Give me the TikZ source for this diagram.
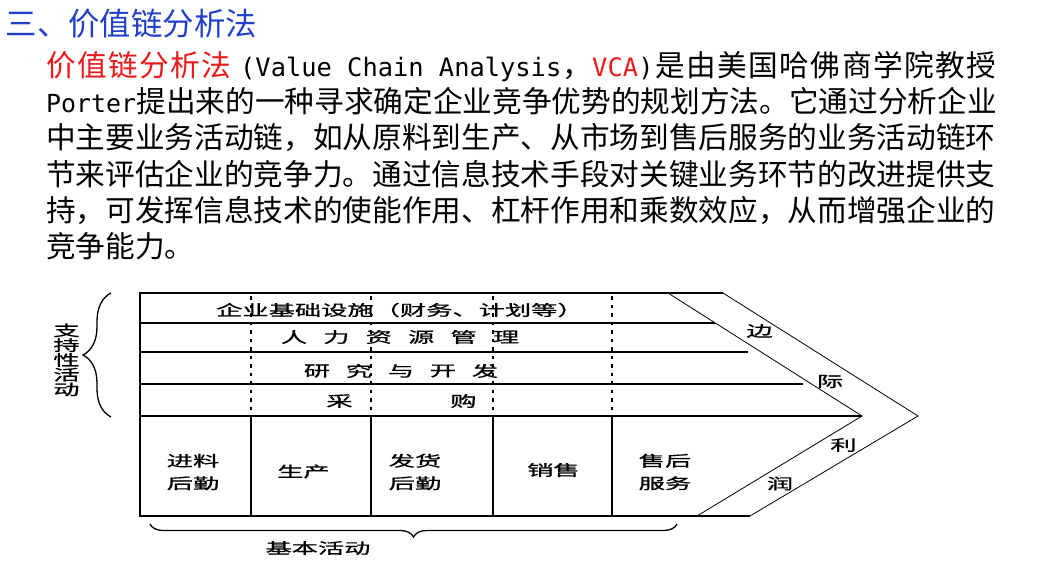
\documentclass[tikz,border=0pt]{standalone}
\usepackage{fontspec}
\setmainfont{Noto Sans CJK SC}
\newfontfamily\cjkwide[LetterSpace=5]{Noto Sans CJK SC}
\newfontfamily\dgfont[FakeBold=0.8]{Noto Sans CJK SC}
\newfontfamily\latmono{DejaVu Sans Mono}
\usetikzlibrary{decorations.pathreplacing}

\definecolor{titleblue}{RGB}{35,65,200}
\definecolor{keyred}{RGB}{235,25,25}

% body text sizes (1pt = 1 unit of the picture)
\newcommand{\bodysize}{\fontsize{29.66}{36}\selectfont}
\newcommand{\monoA}{\latmono\fontsize{25.4}{36}\selectfont}
\newcommand{\monoB}{\latmono\fontsize{24.9}{36}\selectfont}
% widened diagram lettering
\newcommand{\dg}[1]{\scalebox{1.75}[1]{\dgfont\fontsize{15}{15}\selectfont #1}}
\newcommand{\dv}[1]{\scalebox{1.75}[1]{\dgfont\fontsize{15}{15}\selectfont #1}}

\begin{document}
\begin{tikzpicture}[x=1pt,y=-1pt,
  txt/.style={inner sep=0pt, anchor=base west},
  lbl/.style={inner sep=0pt},
  twoline/.style={inner sep=0pt, align=center, font=\fontsize{15}{22.5}\selectfont},
  frame/.style={line width=1.6pt},
  rowline/.style={line width=1.3pt},
  band/.style={line width=0.8pt},
  bracestyle/.style={line width=1.3pt, decorate},
  dotline/.style={line width=1.9pt, dash pattern=on 3.5pt off 5pt}]

\fill[white] (0,0) rectangle (1043,565);
\useasboundingbox (0,0) rectangle (1043,565);

% heading
\node[txt, text=titleblue, font=\fontsize{31.4}{36}\selectfont] (title) at (5.5,35.4) {三、价值链分析法};

% paragraph
\node[txt, text=keyred, font=\cjkwide\bodysize] (l1a) at (46,76.5) {价值链分析法};
\node[txt, font=\monoA] (l1b) at (240,76.5) {(Value Chain Analysis};
\node[txt, font=\bodysize] (l1c) at (562,76.5) {，};
\node[txt, text=keyred, font=\monoA] (l1d) at (592,76.5) {VCA};
\node[txt, font=\monoA] (l1e) at (l1d.base east) {)};
\node[txt, font=\cjkwide\bodysize] (l1f) at (655,76.5) {是由美国哈佛商学院教授};

\node[txt, font=\monoB] (l2a) at (46,112.7) {Porter};
\node[txt, font=\bodysize] (l2b) at (l2a.base east) {提出来的一种寻求确定企业竞争优势的规划方法。它通过分析企业};
\node[txt, font=\bodysize] (l3) at (46,148.9) {中主要业务活动链，如从原料到生产、从市场到售后服务的业务活动链环};
\node[txt, font=\bodysize] (l4) at (46,185.1) {节来评估企业的竞争力。通过信息技术手段对关键业务环节的改进提供支};
\node[txt, font=\bodysize] (l5) at (46,221.3) {持，可发挥信息技术的使能作用、杠杆作用和乘数效应，从而增强企业的};
\node[txt, font=\bodysize] (l6) at (46,257.5) {竞争能力。};

% value chain: frame and rows
\draw[frame] (723,293) -- (140,293) -- (140,516) -- (750,516);
\draw[rowline] (140,323) -- (715,323);
\draw[rowline] (140,352) -- (748,352);
\draw[rowline] (140,384) -- (803,384);
\draw[rowline] (140,416) -- (862,416);

% margin chevron band
\draw[band] (668,293) -- (862,416) -- (697,516);
\draw[band] (723,293) -- (918,416) -- (750,516);

% activity separators
\foreach \x in {251,371,493,612}{
  \draw[dotline] (\x,296) -- (\x,416);
  \draw[frame] (\x,416) -- (\x,516);
}

% support activities
\node[lbl, anchor=west] (infra) at (216,310) {\dg{企业基础设施（财务、计划等）}};
\foreach \c [count=\i] in {人,力,资,源,管,理}
  \node[lbl] (hr\i) at ({251.6+42.4*\i},337) {\dg{\c}};
\foreach \c [count=\i] in {研,究,与,开,发}
  \node[lbl] (rd\i) at ({275+42*\i},371) {\dg{\c}};
\node[lbl] (buy1) at (339.5,401) {\dg{采}};
\node[lbl] (buy2) at (463.5,401) {\dg{购}};

% primary activities
\node[twoline] (inbound) at (193,472) {\dg{进料}\\\dg{后勤}};
\node[lbl] (ops) at (303.5,471.5) {\dg{生产}};
\node[twoline] (outbound) at (415,472) {\dg{发货}\\\dg{后勤}};
\node[lbl] (sales) at (553.5,470) {\dg{销售}};
\node[twoline] (service) at (665,472) {\dg{售后}\\\dg{服务}};

% margin lettering
\node[lbl] (m1) at (759.5,331) {\dg{边}};
\node[lbl] (m2) at (830,381.5) {\dg{际}};
\node[lbl] (m3) at (843.5,445) {\dg{利}};
\node[lbl] (m4) at (780,483.5) {\dg{润}};

% braces and their captions
\coordinate (sb1) at (111,417);
\coordinate (sb2) at (111,293);
\draw[bracestyle, decoration={brace, amplitude=28pt}] (sb1) -- (sb2);
\foreach \c [count=\i] in {支,持,性,活,动}
  \node[lbl] (sup\i) at (66.5,{315.5+14.8*\i}) {\dv{\c}};

\coordinate (pb1) at (677,524);
\coordinate (pb2) at (150,524);
\draw[bracestyle, decoration={brace, amplitude=13pt}] (pb1) -- (pb2);
\node[lbl] (prim) at (318,548) {\dg{基本活动}};

\end{tikzpicture}
\end{document}
